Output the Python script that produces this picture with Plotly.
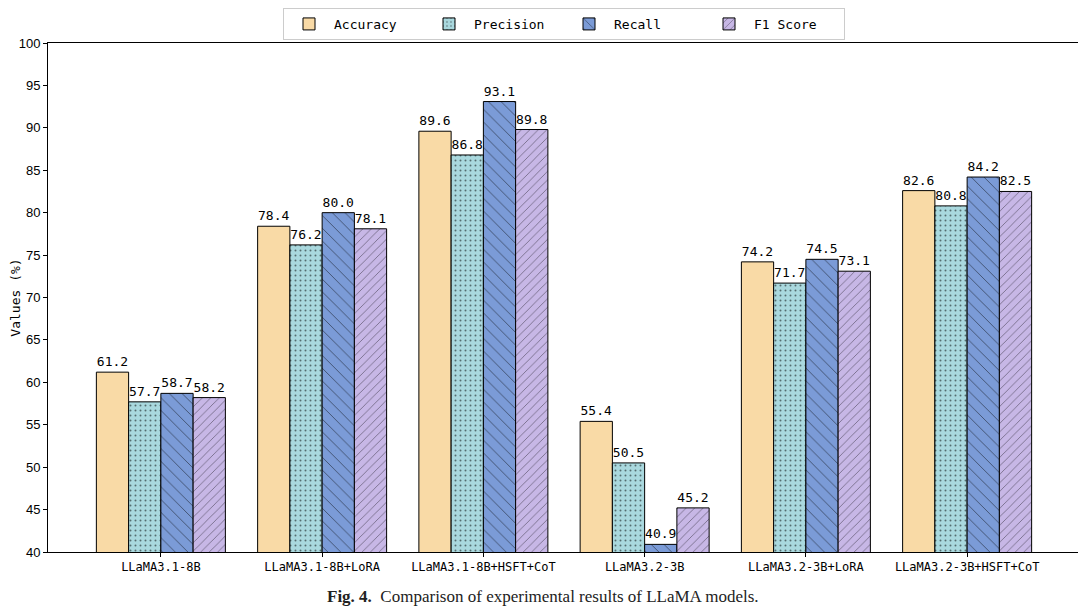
import plotly.graph_objects as go

models = ["LLaMA3.1-8B", "LLaMA3.1-8B+LoRA", "LLaMA3.1-8B+HSFT+CoT",
          "LLaMA3.2-3B", "LLaMA3.2-3B+LoRA", "LLaMA3.2-3B+HSFT+CoT"]
accuracy = [61.2, 78.4, 89.6, 55.4, 74.2, 82.6]
precision = [57.7, 76.2, 86.8, 50.5, 71.7, 80.8]
recall = [58.7, 80.0, 93.1, 40.9, 74.5, 84.2]
f1 = [58.2, 78.1, 89.8, 45.2, 73.1, 82.5]

series = [
    ("Accuracy", accuracy, "#F9DAA6", "", 0, 0),
    ("Precision", precision, "#A9D8DE", ".", 5, 0.12),
    ("Recall", recall, "#7B9BD7", "\\", 9, 0.1),
    ("F1 Score", f1, "#C7B7E6", "/", 6, 0.12),
]

mono = "DejaVu Sans Mono"
fig = go.Figure()
for name, vals, col, pat, psize, psol in series:
    marker = dict(color=col, line=dict(color="black", width=1))
    if pat:
        marker["pattern"] = dict(shape=pat, fgcolor="black", fillmode="overlay",
                                 size=psize, solidity=psol)
    fig.add_trace(go.Bar(
        name=name, x=models, y=vals, marker=marker,
        texttemplate="%{y:.1f}", textposition="outside", cliponaxis=False,
        textfont=dict(family=mono, size=13, color="black"),
    ))

fig.update_layout(
    width=1078, height=601,
    margin=dict(l=40, r=6, t=35, b=57, autoexpand=False),
    barmode="group", bargap=0.2, bargroupgap=0,
    plot_bgcolor="white", paper_bgcolor="white",
    legend=dict(orientation="h", x=0.5, xanchor="center", y=1.0688, yanchor="top",
                bordercolor="#cccccc", borderwidth=1,
                font=dict(family=mono, size=13, color="black"),
                itemwidth=40, entrywidthmode="pixels", entrywidth=85),
    xaxis=dict(showline=True, linecolor="black", linewidth=1, mirror=True,
               ticks="outside", ticklen=4, tickcolor="black", automargin=False,
               tickfont=dict(family=mono, size=12, color="black"),
               range=[-0.7, 5.7]),
    yaxis=dict(range=[40, 100], dtick=5, showgrid=False, zeroline=False,
               showline=True, linecolor="black", linewidth=1, mirror=True,
               ticks="outside", ticklen=4, tickcolor="black", automargin=False,
               tickfont=dict(family="Liberation Sans", size=13, color="black"),
               title=dict(text="Values (%)", font=dict(family=mono, size=13, color="black"),
                          standoff=4)),
    annotations=[dict(
        text="<b>Fig. 4.</b>  Comparison of experimental results of LLaMA models.",
        xref="paper", yref="paper", x=0.48, y=-0.088, yanchor="middle", showarrow=False,
        font=dict(family="Liberation Serif", size=17, color="#222222"))],
)

fig.write_html("out.html")
